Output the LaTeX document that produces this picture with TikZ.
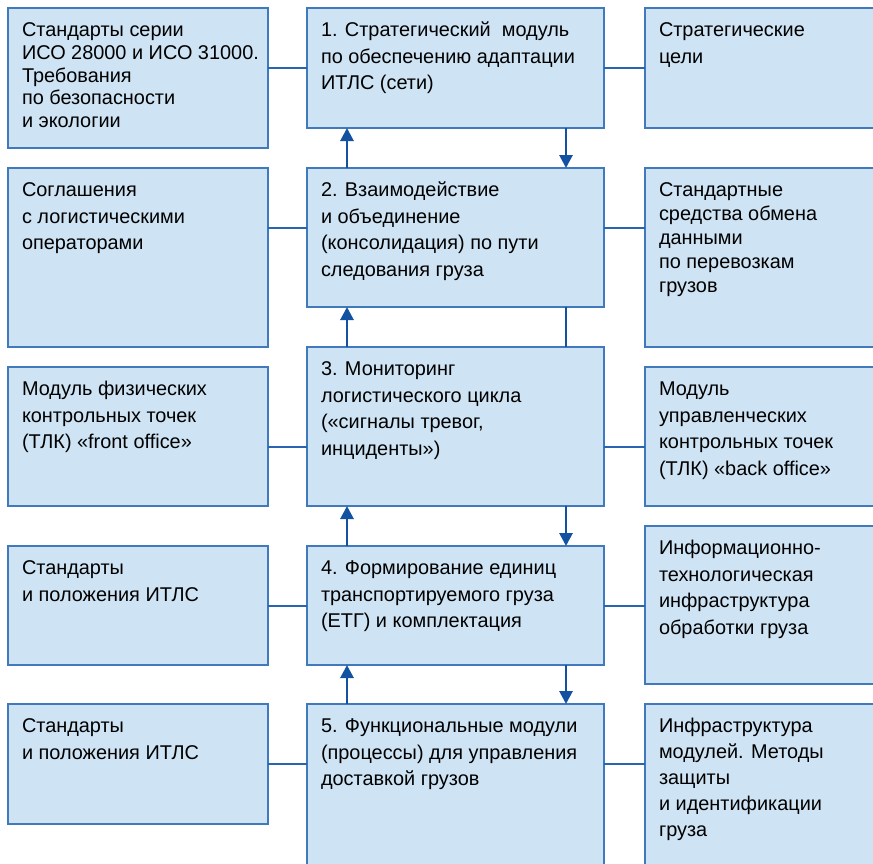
\documentclass[tikz,border=0pt]{standalone}
\usepackage{fontspec}
\setmainfont{Liberation Sans}
\usetikzlibrary{arrows.meta}
\definecolor{fillc}{RGB}{206,227,243}
\definecolor{borderc}{RGB}{64,122,188}
\definecolor{linec}{RGB}{40,100,175}
\definecolor{arrc}{RGB}{18,82,160}
\newcommand\bxt[4]{\parbox[c][#2pt][t]{#1pt}{\leftskip=14pt\rightskip=-40pt plus 1fil\parfillskip=0pt plus 1fil\parindent=0pt\fontsize{19.9}{#3}\selectfont\rule{0pt}{28.5pt}#4}}
\tikzset{
  box/.style={draw=borderc, fill=fillc, line width=1.6pt, anchor=north west, inner sep=0pt, outer sep=0pt},
  conn/.style={draw=linec, line width=1.3pt},
  arr/.style={draw=arrc, line width=2.8pt, -{Triangle[width=13pt,length=13pt]}},
  plain/.style={draw=arrc, line width=2.8pt}
}
\begin{document}
\begin{tikzpicture}[x=1pt,y=-1pt]
\useasboundingbox (0,0) rectangle (873,863);
\clip (0,0) rectangle (873,863);
\fill[white] (0,0) rectangle (873,863);
% left column
\node[box] (l1) at (8,8) {\bxt{260}{140}{22.8}{Стандарты серии\\ИСО 28000 и ИСО 31000.\\Требования\\по безопасности\\и экологии}};
\node[box] (l2) at (8,168) {\bxt{260}{179}{26.5}{Соглашения\\с логистическими\\операторами}};
\node[box] (l3) at (8,367) {\bxt{260}{139}{26.5}{Модуль физических\\контрольных точек\\(ТЛК) «front office»}};
\node[box] (l4) at (8,546) {\bxt{260}{119}{26.5}{Стандарты\\и положения ИТЛС}};
\node[box] (l5) at (8,704) {\bxt{260}{120}{26.5}{Стандарты\\и положения ИТЛС}};
% middle column
\node[box] (m1) at (307,8) {\bxt{297}{120}{26.5}{1. Стратегический\ \ модуль\\по обеспечению адаптации\\ИТЛС (сети)}};
\node[box] (m2) at (307,168) {\bxt{297}{139}{26.5}{2. Взаимодействие\\и объединение\\(консолидация) по пути\\следования груза}};
\node[box] (m3) at (307,347) {\bxt{297}{159}{26.5}{3. Мониторинг\\логистического цикла\\(«сигналы тревог,\\инциденты»)}};
\node[box] (m4) at (307,546) {\bxt{297}{119}{26.5}{4. Формирование единиц\\транспортируемого груза\\(ЕТГ) и комплектация}};
\node[box] (m5) at (307,704) {\bxt{297}{200}{26.5}{5. Функциональные модули\\(процессы) для управления\\доставкой грузов}};
% right column
\node[box] (r1) at (645,8) {\bxt{260}{120}{26.5}{Стратегические\\цели}};
\node[box] (r2) at (645,168) {\bxt{260}{179}{24}{Стандартные\\средства обмена\\данными\\по перевозкам\\грузов}};
\node[box] (r3) at (645,367) {\bxt{260}{139}{26.5}{Модуль\\управленческих\\контрольных точек\\(ТЛК) «back office»}};
\node[box] (r4) at (645,526) {\bxt{260}{158}{26.5}{Информационно-\\технологическая\\инфраструктура\\обработки груза}};
\node[box] (r5) at (645,704) {\bxt{260}{200}{26}{Инфраструктура\\модулей. Методы\\защиты\\и идентификации\\груза}};
% horizontal connectors
\draw[conn] (l1.east |- 0,68) -- (m1.west |- 0,68);
\draw[conn] (m1.east |- 0,68) -- (r1.west |- 0,68);
\draw[conn] (l2.east |- 0,228) -- (m2.west |- 0,228);
\draw[conn] (m2.east |- 0,228) -- (r2.west |- 0,228);
\draw[conn] (l3.east |- 0,447) -- (m3.west |- 0,447);
\draw[conn] (m3.east |- 0,447) -- (r3.west |- 0,447);
\draw[conn] (l4.east |- 0,606) -- (m4.west |- 0,606);
\draw[conn] (m4.east |- 0,606) -- (r4.west |- 0,606);
\draw[conn] (l5.east |- 0,764) -- (m5.west |- 0,764);
\draw[conn] (m5.east |- 0,764) -- (r5.west |- 0,764);
% vertical arrows
\draw[arr] (m2.north -| 347,0) -- (m1.south -| 347,0);
\draw[arr] (m1.south -| 566,0) -- (m2.north -| 566,0);
\draw[arr] (m3.north -| 347,0) -- (m2.south -| 347,0);
\draw[plain] (m2.south -| 566,0) -- (m3.north -| 566,0);
\draw[arr] (m4.north -| 347,0) -- (m3.south -| 347,0);
\draw[arr] (m3.south -| 566,0) -- (m4.north -| 566,0);
\draw[arr] (m5.north -| 347,0) -- (m4.south -| 347,0);
\draw[arr] (m4.south -| 566,0) -- (m5.north -| 566,0);
\end{tikzpicture}
\end{document}
